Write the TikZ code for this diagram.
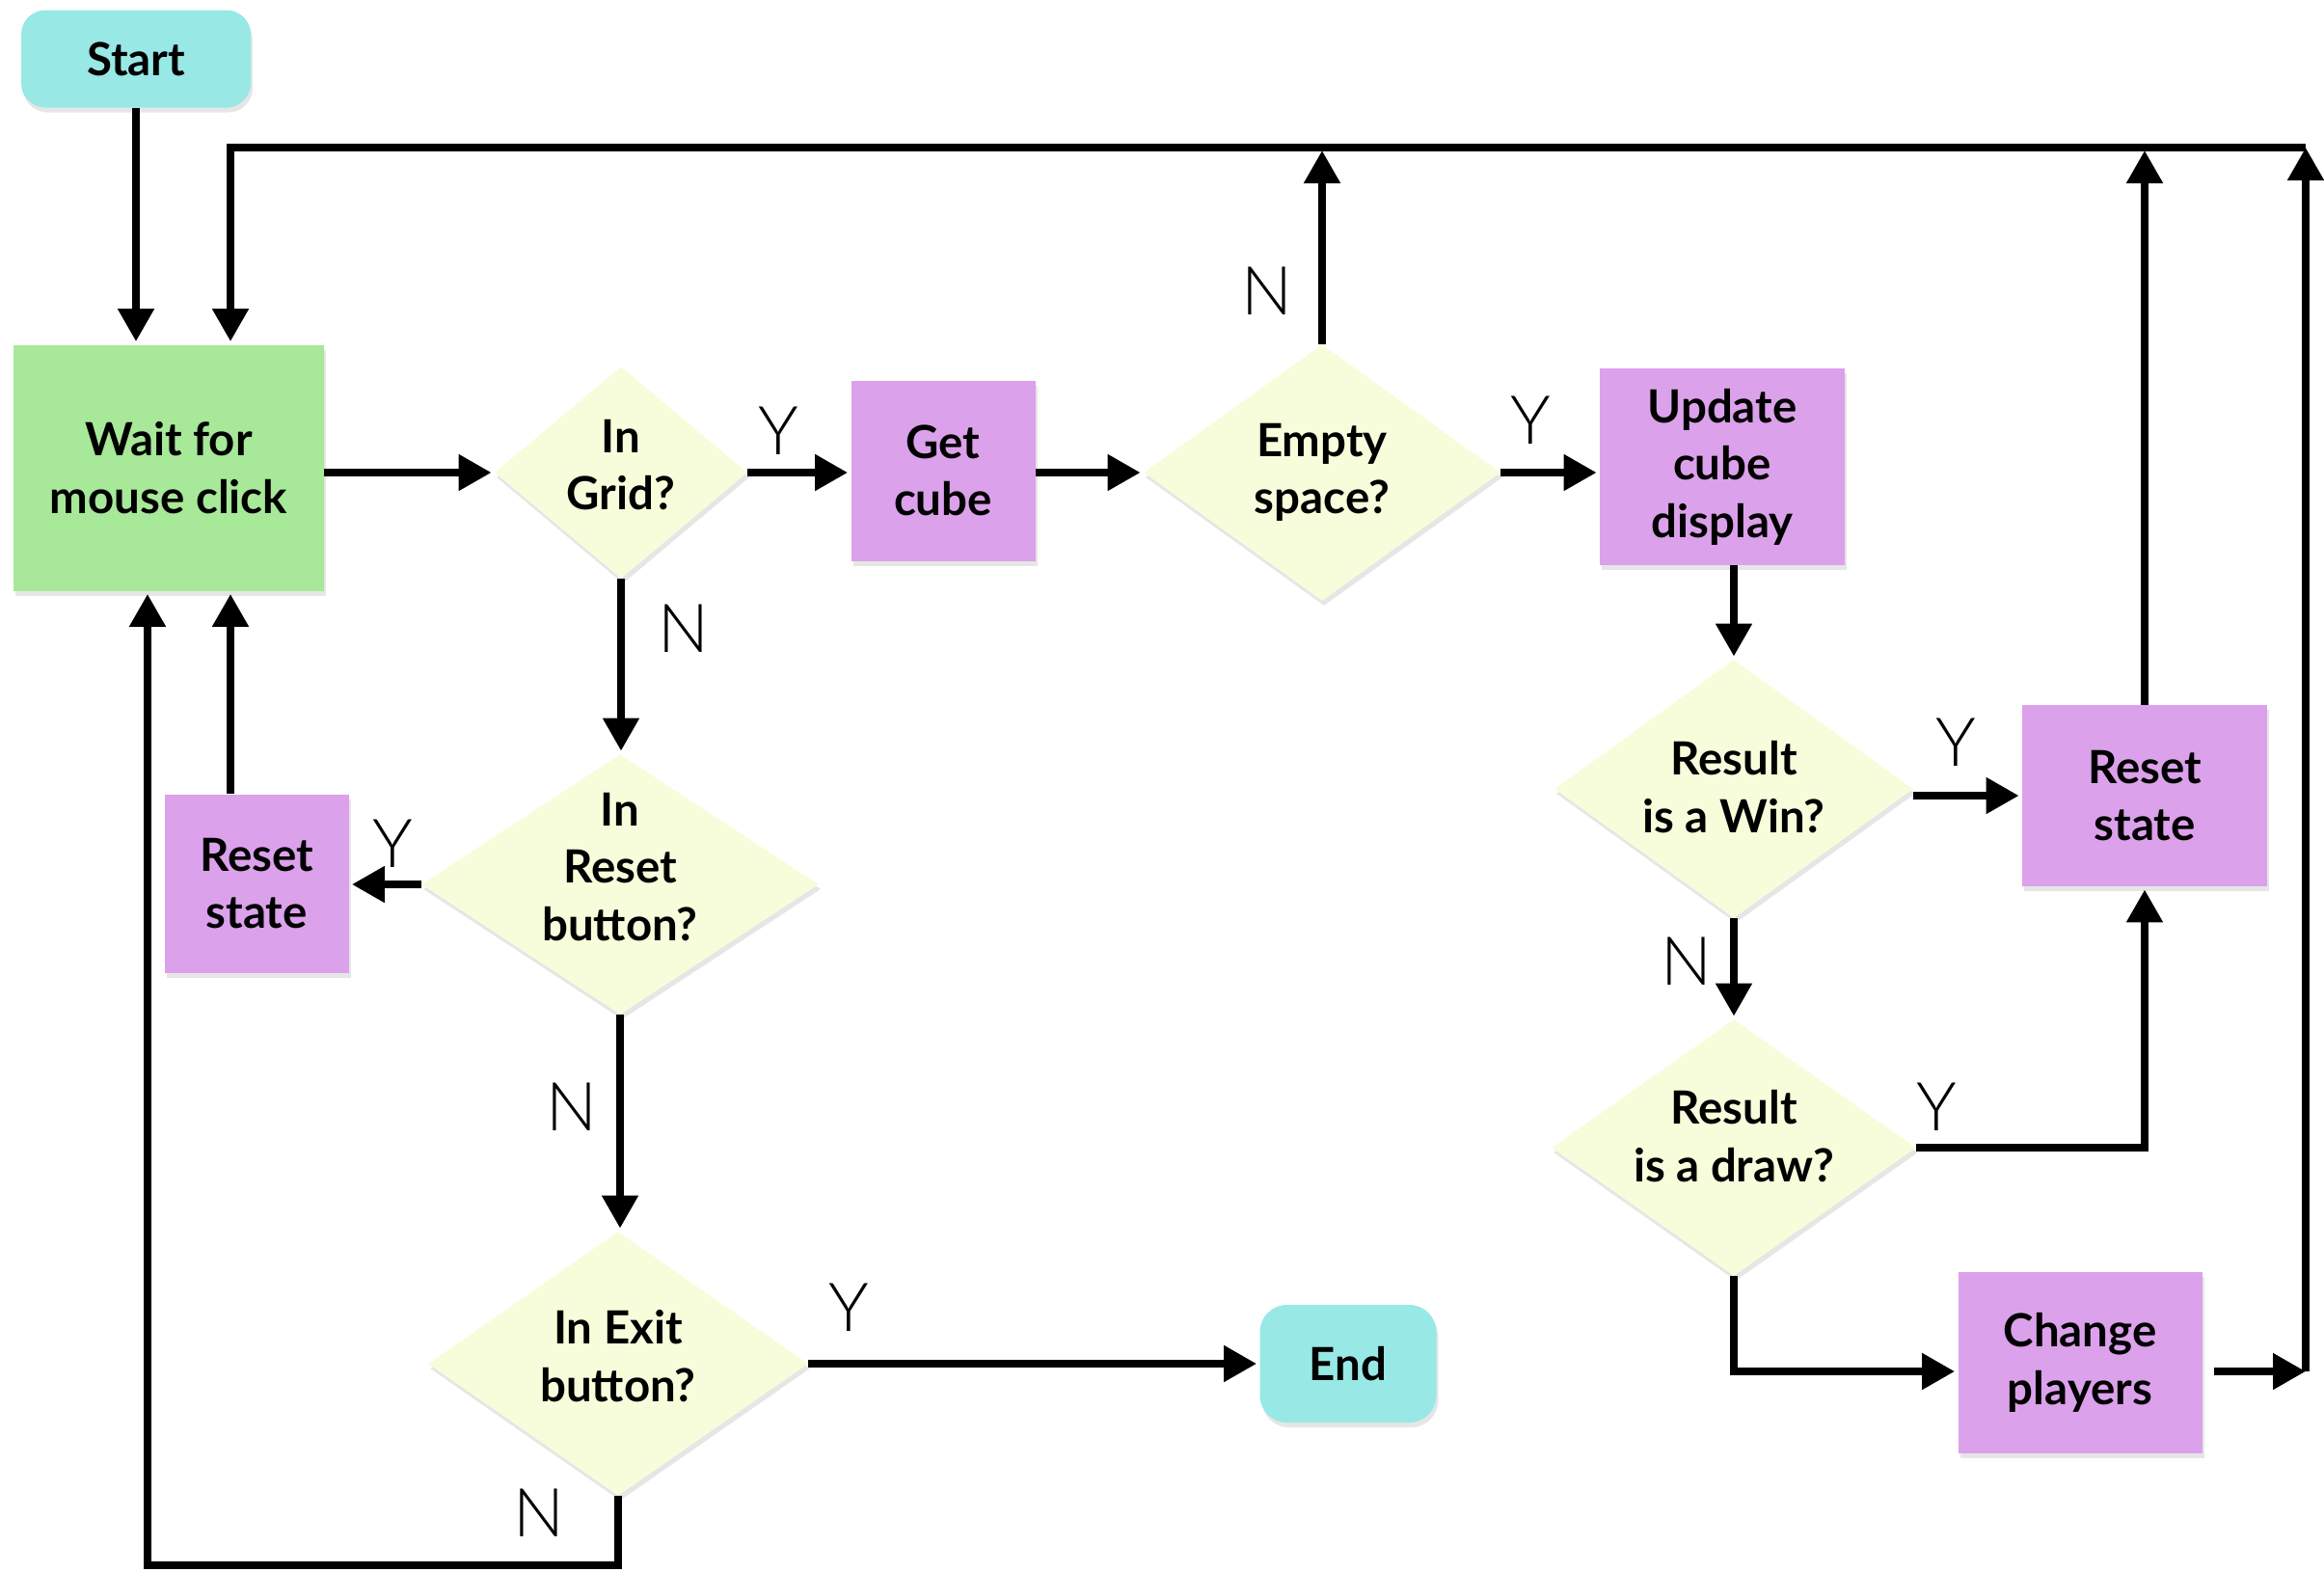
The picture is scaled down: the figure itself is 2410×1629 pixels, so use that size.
\documentclass[tikz,border=0pt]{standalone}
\usepackage{fontspec}
\setmainfont{Lato}
\IfFontExistsTF{Lato Light}{\newfontfamily\lblfont{Lato Light}}{\newfontfamily\lblfont{Lato}}
\usetikzlibrary{shapes.geometric,arrows.meta,shadows}
\definecolor{cyanf}{HTML}{98E8E6}
\definecolor{greenf}{HTML}{A7E899}
\definecolor{purplef}{HTML}{DCA1EB}
\definecolor{yellowf}{HTML}{F7FDDB}
\begin{document}
\begin{tikzpicture}[x=0.5pt,y=-0.5pt,
  shadowed/.style={drop shadow={shadow xshift=1pt,shadow yshift=-2.5pt,opacity=0.2}},
  txt/.style={font=\bfseries\fontsize{23.7}{29.7}\selectfont, align=center, text=black},
  box/.style={rectangle, fill=purplef, inner sep=0pt, shadowed, txt},
  term/.style={rectangle, rounded corners=12.5pt, fill=cyanf, inner sep=0pt, shadowed, txt},
  dia/.style={diamond, fill=yellowf, inner sep=0pt, shadowed},
  dtext/.style={txt},
  yn/.style={font=\lblfont\fontsize{35}{35}\selectfont, inner sep=0pt},
  arr/.style={line width=4pt, -{Triangle[width=18pt,length=17pt]}, shorten >=1.5pt}]
\useasboundingbox (0,0) rectangle (2410,1629);

% nodes
\node[term, minimum width=119pt, minimum height=50.5pt] (start) at (141,61) {Start};
\node[rectangle, fill=greenf, inner sep=0pt, shadowed, txt, minimum width=161pt, minimum height=127.5pt] (wait) at (175,485) {Wait for\\mouse click};
\node[dia, minimum width=131pt, minimum height=110pt, label={[dtext, yshift=4pt]center:In\\Grid?}] (grid) at (644,490) {};
\node[box, minimum width=95.5pt, minimum height=93.5pt] (getcube) at (978,488) {Get\\cube};
\node[dia, minimum width=185pt, minimum height=133pt, label={[dtext]center:Empty\\space?}] (empty) at (1371,490) {};
\node[box, minimum width=127pt, minimum height=102pt] (update) at (1786,484) {Update\\cube\\display};
\node[dia, minimum width=186pt, minimum height=134pt, label={[dtext, yshift=1pt]center:Result\\is a Win?}] (win) at (1798,818) {};
\node[box, minimum width=127pt, minimum height=94pt] (resetR) at (2224,825) {Reset\\state};
\node[dia, minimum width=189pt, minimum height=133pt, label={[dtext, yshift=6pt]center:Result\\is a draw?}] (drawq) at (1798,1190) {};
\node[box, minimum width=126.5pt, minimum height=94pt] (change) at (2157,1413) {Change\\players};
\node[dia, minimum width=206pt, minimum height=135pt, label={[dtext, yshift=9pt]center:In\\Reset\\button?}] (resetbtn) at (643,917) {};
\node[box, minimum width=95.5pt, minimum height=92.5pt] (resetL) at (266,916) {Reset\\state};
\node[dia, minimum width=197pt, minimum height=137pt, label={[dtext, yshift=4pt]center:In Exit\\button?}] (exitq) at (641,1414) {};
\node[term, rounded corners=14pt, minimum width=91.5pt, minimum height=61pt] (endn) at (1398,1414) {End};

% helper coordinates
\coordinate (tr) at (2391,153);
\coordinate (tl) at (239,153);
\coordinate (cr) at (2391,1422);
\coordinate (bl) at (153,1623);

% connectors
\draw[arr] (start.south) -- (start.south |- wait.north);
\draw[arr] (wait.east |- grid.west) -- (grid.west);
\draw[arr] (grid.east) -- (grid.east -| getcube.west);
\draw[arr] (getcube.east |- empty.west) -- (empty.west);
\draw[arr] (empty.east) -- (empty.east -| update.west);
\draw[arr] (empty.north) -- (empty.north |- tr);
\draw[arr] (win.north |- update.south) -- (win.north);
\draw[arr] (win.east |- resetR.west) -- (resetR.west);
\draw[arr] (resetR.north) -- (resetR.north |- tr);
\draw[arr] (win.south) -- (win.south |- drawq.north);
\draw[arr] (drawq.east) -- (resetR.south |- drawq.east) -- (resetR.south);
\draw[arr] (drawq.south) -- (drawq.south |- cr) -- (change.west |- cr);
\draw[arr, shorten <=6pt, shorten >=0pt] (change.east |- cr) -- (cr);
\draw[arr, shorten >=0pt] (cr) -- (tr);
\draw[arr] (tr) -- (tl) -- (tl |- wait.north);
\draw[arr] (grid.south) -- (grid.south |- resetbtn.north);
\draw[arr] (resetbtn.west) -- (resetbtn.west -| resetL.east);
\draw[arr] (tl |- resetL.north) -- (tl |- wait.south);
\draw[arr] (resetbtn.south) -- (resetbtn.south |- exitq.north);
\draw[arr] (exitq.east) -- (exitq.east -| endn.west);
\draw[arr] (exitq.south) -- (exitq.south |- bl) -- (bl) -- (bl |- wait.south);

% Y / N labels
\node[yn] (yGrid) at (807,447) {Y};
\node[yn] (nEmpty) at (1314,302) {N};
\node[yn] (yEmpty) at (1587,436) {Y};
\node[yn] (yWin) at (2028,770) {Y};
\node[yn] (nWin) at (1749,997) {N};
\node[yn] (yDraw) at (2008,1148) {Y};
\node[yn] (nGrid) at (709,652) {N};
\node[yn] (yReset) at (407,875) {Y};
\node[yn] (nReset) at (593,1148) {N};
\node[yn] (yExit) at (880,1356) {Y};
\node[yn] (nExit) at (559,1569) {N};
\end{tikzpicture}
\end{document}
